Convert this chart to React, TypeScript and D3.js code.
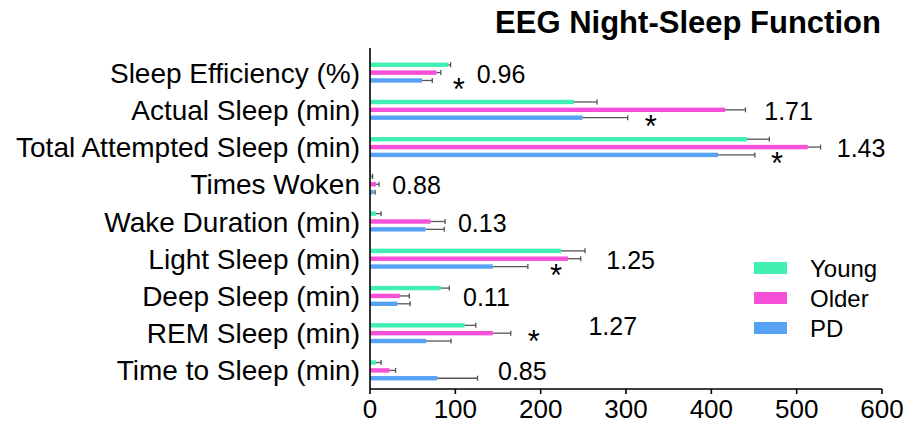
import { useEffect } from 'react';
import * as d3 from 'd3';

const CATEGORIES = [
  'Sleep Efficiency (%)',
  'Actual Sleep (min)',
  'Total Attempted Sleep (min)',
  'Times Woken',
  'Wake Duration (min)',
  'Light Sleep (min)',
  'Deep Sleep (min)',
  'REM Sleep (min)',
  'Time to Sleep (min)',
];

const SERIES = ['Young', 'Older', 'PD'];

const YOUNG_MEAN = [92, 239, 442, 1.5, 7, 224, 83, 111, 7];
const YOUNG_ERR = [2.5, 27, 26, 1.5, 6, 28, 10, 13, 6];
const OLDER_MEAN = [78, 416, 513, 7, 71, 232, 35, 144, 23];
const OLDER_ERR = [5, 24, 15, 3.5, 17, 15, 11, 21, 7];
const PD_MEAN = [61, 249, 408, 4, 65, 144, 32, 66, 79];
const PD_ERR = [12, 53, 43, 2, 22, 41, 15, 29, 47];

// effect-size labels, with where they sit along the x axis (axis units)
const EFFECT = ['0.96', '1.71', '1.43', '0.88', '0.13', '1.25', '0.11', '1.27', '0.85'];
const EFFECT_AT = [125, 462, 547, 26, 103, 277, 109, 256, 150];
const EFFECT_ROW = ['Older', 'Older', 'Older', 'Older', 'Older', 'Older', 'Older', 'Young', 'Older'];

// significance stars: category, row, x position (axis units)
const STAR_CAT = [0, 1, 2, 5, 7];
const STAR_ROW = ['PD', 'PD', 'PD', 'PD', 'Older'];
const STAR_AT = [104, 329, 477, 218, 192];

const X_TICKS = [0, 100, 200, 300, 400, 500, 600];

const COLORS: Record<string, string> = {
  Young: '#41efb1',
  Older: '#f64fd8',
  PD: '#58a2f4',
};

const FONT = 'Arial, "Liberation Sans", sans-serif';

export default function App() {
  useEffect(() => {
    document.body.style.margin = '0';
  }, []);

  const width = 904;
  const height = 425;
  const x = d3.scaleLinear().domain([0, 600]).range([370, 882]);
  const y = d3.scaleBand().domain(CATEGORIES).range([54, 389]);
  const sub = d3.scaleBand().domain(SERIES).range([-13.5, 13.5]).padding(0.44);

  const means: Record<string, number[]> = { Young: YOUNG_MEAN, Older: OLDER_MEAN, PD: PD_MEAN };
  const errs: Record<string, number[]> = { Young: YOUNG_ERR, Older: OLDER_ERR, PD: PD_ERR };

  const center = (i: number) => (y(CATEGORIES[i]) ?? 0) + y.bandwidth() / 2;
  const rowMid = (i: number, s: string) => center(i) + (sub(s) ?? 0) + sub.bandwidth() / 2;

  return (
    <svg width={width} height={height} style={{ display: 'block', background: '#fff' }} fontFamily={FONT}>
      <text x={688} y={33} textAnchor="middle" fontSize={31} fontWeight="bold" fill="#000">
        EEG Night-Sleep Function
      </text>

      {CATEGORIES.map((c, i) => (
        <text key={c} x={360} y={center(i)} dy="0.36em" textAnchor="end" fontSize={28} fill="#000">
          {c}
        </text>
      ))}

      {CATEGORIES.map((c, i) =>
        SERIES.map(s => {
          const m = means[s][i];
          const e = errs[s][i];
          const cy = rowMid(i, s);
          return (
            <g key={c + s}>
              <rect
                x={x(0)}
                y={cy - sub.bandwidth() / 2}
                width={x(m) - x(0)}
                height={sub.bandwidth()}
                fill={COLORS[s]}
              />
              <line x1={x(m)} x2={x(m + e)} y1={cy} y2={cy} stroke="#555" strokeWidth={1.3} />
              <line x1={x(m + e)} x2={x(m + e)} y1={cy - 2.5} y2={cy + 2.5} stroke="#555" strokeWidth={1.3} />
            </g>
          );
        })
      )}

      {EFFECT.map((t, i) => (
        <text key={'e' + i} x={x(EFFECT_AT[i])} y={rowMid(i, EFFECT_ROW[i])} dy="0.4em" fontSize={25} fill="#000">
          {t}
        </text>
      ))}

      {STAR_CAT.map((ci, k) => (
        <text
          key={'s' + k}
          x={x(STAR_AT[k])}
          y={rowMid(ci, STAR_ROW[k])}
          dy="0.62em"
          textAnchor="middle"
          fontSize={31}
          fill="#000"
        >
          *
        </text>
      ))}

      {/* axes */}
      <line x1={x(0)} x2={x(0)} y1={48} y2={389} stroke="#000" strokeWidth={1.6} />
      <line x1={x(0)} x2={x(600)} y1={389} y2={389} stroke="#000" strokeWidth={1.6} />
      {X_TICKS.map(t => (
        <g key={t}>
          <line x1={x(t)} x2={x(t)} y1={389} y2={394} stroke="#000" strokeWidth={1.6} />
          <text x={x(t)} y={418} textAnchor="middle" fontSize={26} fill="#000">
            {t}
          </text>
        </g>
      ))}

      {/* legend */}
      {SERIES.map((s, i) => (
        <g key={'l' + s} transform={`translate(754, ${268 + i * 30})`}>
          <rect x={0} y={-6} width={33} height={12} fill={COLORS[s]} />
          <text x={56} y={0} dy="0.36em" fontSize={24} fill="#000">
            {s}
          </text>
        </g>
      ))}
    </svg>
  );
}
